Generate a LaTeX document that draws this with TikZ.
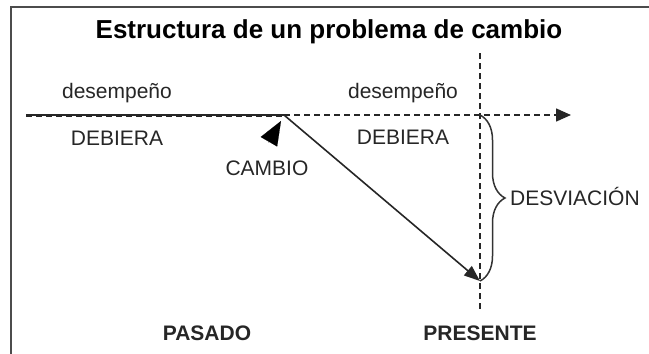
\documentclass[tikz,border=0pt]{standalone}
\usepackage{fontspec}
\setmainfont{Liberation Sans}
\usepackage{tikz}
\usetikzlibrary{arrows.meta, positioning, decorations.pathreplacing}

\begin{document}
\begin{tikzpicture}[x=1pt, y=-1pt,
	lbl/.style={inner sep=0pt, anchor=base, text=black!85, font=\fontsize{21}{24}\selectfont},
	tiempo/.style={lbl, font=\fontsize{21}{24}\selectfont\bfseries},
	marco/.style={line width=2.6pt, draw=black!70},
	linea/.style={line width=1.6pt, draw=black!85},
	guia/.style={linea, dash pattern=on 6pt off 4pt},
	punta/.style={-{Triangle[length=15pt, width=13pt]}},
	flecha/.style={-{Triangle[length=16pt, width=12pt]}},
	llave/.style={line width=1.5pt, draw=black!80, decorate, decoration={brace, amplitude=25pt, aspect=0.5}}]
	\useasboundingbox (0,0) rectangle (649,354);
	\draw[marco] (11,354) -- (11,7) -- (649,7);
	% titulo
	\node[lbl, font=\fontsize{26}{30}\selectfont\bfseries, text=black] (titulo) at (329,38) {Estructura de un problema de cambio};
	% puntos del camino
	\coordinate (inicio) at (26,115);
	\coordinate (quiebre) at (284,115);
	\coordinate (meta) at (571,115);
	\coordinate (debiera) at (480,115);
	\coordinate (real) at (480,281);
	\coordinate (hoyarriba) at (480,53);
	\coordinate (hoyabajo) at (480,312);
	\coordinate (colaC) at (268.5,142.5);
	\coordinate (puntaC) at (281,121);
	% lineas
	\draw[linea] (inicio) -- (quiebre);
	\draw[guia] ([yshift=-1.2pt]inicio) -- ([yshift=-1.2pt]quiebre);
	\draw[guia, punta] (quiebre) -- (meta);
	\draw[guia] (hoyarriba) -- (hoyabajo);
	\draw[linea, flecha] (quiebre) -- (real);
	\draw[line width=0.1pt, -{Triangle[length=24pt, width=19pt]}] (colaC) -- (puntaC);
	\draw[llave] (debiera) -- (real);
	% textos
	\node[lbl] (desemp1) at (117,98) {desempeño};
	\node[lbl] (desemp2) at (403,98) {desempeño};
	\node[lbl] (deb1) at (117,145) {DEBIERA};
	\node[lbl] (deb2) at (403,144) {DEBIERA};
	\node[lbl] (cambio) at (267,175) {CAMBIO};
	\node[lbl, anchor=base west] (desv) at (510,205) {DESVIACIÓN};
	\node[tiempo] (pasado) at (207,340) {PASADO};
	\node[tiempo] (presente) at (480,340) {PRESENTE};
\end{tikzpicture}
\end{document}
